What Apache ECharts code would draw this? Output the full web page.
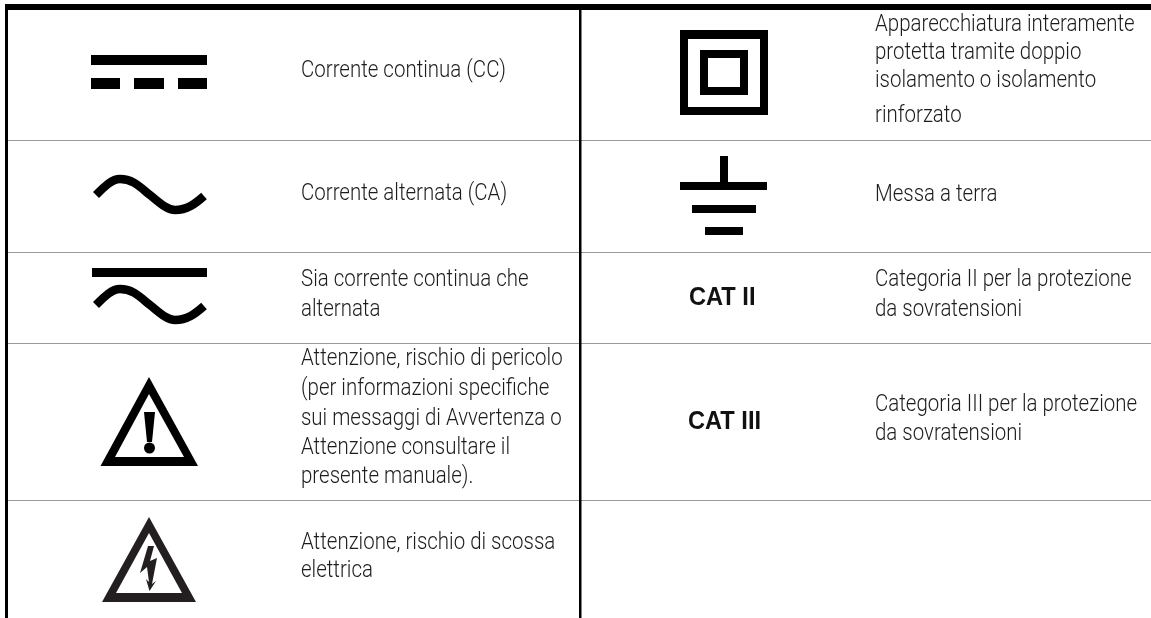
<!DOCTYPE html>
<html>
<head>
<meta charset="utf-8">
<title>Simboli di sicurezza</title>
<script src="https://cdn.jsdelivr.net/npm/echarts@6/dist/echarts.min.js"></script>
<style>
html, body { margin: 0; padding: 0; background: #fff; }
#chart { width: 1151px; height: 618px; }
</style>
</head>
<body>
<div id="chart"></div>
<script>
// table content
const leftLabels = [
  ["Corrente continua (CC)"],
  ["Corrente alternata (CA)"],
  ["Sia corrente continua che", "alternata"],
  ["Attenzione, rischio di pericolo", "(per informazioni specifiche", "sui messaggi di Avvertenza o", "Attenzione consultare il", "presente manuale)."],
  ["Attenzione, rischio di scossa", "elettrica"],
];
const rightLabels = [
  ["Apparecchiatura interamente", "protetta tramite doppio", "isolamento o isolamento", "rinforzato"],
  ["Messa a terra"],
  ["Categoria II per la protezione", "da sovratensioni"],
  ["Categoria III per la protezione", "da sovratensioni"],
];
const catLabels = ["CAT II", "CAT III"];

// layout, in page pixels on the hidden axes
const rowRules = [140, 252, 343, 500];
const leftBaselines = [[78], [201], [287, 317], [366, 396, 426, 455, 484], [550, 578]];
const rightBaselines = [[32, 60, 88, 123], [202], [287, 317], [412, 441]];
const catPlaces = [[689, 306], [688, 430]];

// symbols drawn around their own centre
const rect = (x0, y0, x1, y1) => `M${x0} ${y0}L${x1} ${y0}L${x1} ${y1}L${x0} ${y1}Z`;
const hole = (x0, y0, x1, y1) => `M${x0} ${y0}L${x0} ${y1}L${x1} ${y1}L${x1} ${y0}Z`;
const wave = "M-53 0C-44 -9 -37 -16 -29 -16C-16 -16 -9 -8 1 0C11 8 18 15 26 15C38 15 46 9 55 1";
const symbols = [
  { at: [149, 72], fill: rect(-58, -17, 58, -7) + rect(-58, 6, -29, 17) + rect(-15, 6, 15, 17) + rect(29, 6, 58, 17) },
  { at: [149, 195], stroke: wave },
  { at: [149, 305], fill: rect(-57, -37, 58, -28), stroke: wave },
  { at: [149, 420], fill: "M0 -43L49 46L-48.5 46ZM0 -26L-34 37L35 37Z"
      + "M-5 -8L6 -8L3 22L-2 22ZM6 28A5.5 5.5 0 1 1 -5 28A5.5 5.5 0 1 1 6 28Z" },
  { at: [149, 560], color: "#231f20", fill: "M0 -43L47 42L-47 42ZM0 -27L-33 33L33 33Z"
      + "M-1 -14L5 -14L1 1L8 -2L3 24L7 21L0.5 31L-3 19L0 22L-2 7L-9 13Z" },
  { at: [724, 72], fill: rect(-44, -42, 44, 43) + hole(-36, -33, 36, 35) + rect(-24, -22, 24, 23) + hole(-16, -14, 16, 15) },
  { at: [724, 195], fill: rect(-4, -39, 4, -12) + rect(-44, -13, 43, -5) + rect(-32, 10, 32, 18) + rect(-19, 32, 19, 40) },
];

const chart = echarts.init(document.getElementById("chart"), null, { renderer: "canvas" });

const bodyFont = "300 23px Roboto";
const bodyScale = 0.89;

function textEl(api, str, x, baseline) {
  const p = api.coord([x, baseline]);
  return {
    type: "text",
    x: p[0],
    y: p[1] - 6.5,
    scaleX: bodyScale,
    style: { text: str, font: bodyFont, fill: "#1c1c1c", verticalAlign: "middle" },
  };
}

function cellTexts(api, labels, baselines, x) {
  const out = [];
  labels.forEach((lines, r) => {
    lines.forEach((str, l) => out.push(textEl(api, str, x, baselines[r][l])));
  });
  return out;
}

function ruleEl(api, x0, y0, x1, y1, color) {
  const a = api.coord([x0, y0]);
  const b = api.coord([x1, y1]);
  return { type: "rect", shape: { x: a[0], y: a[1], width: b[0] - a[0], height: b[1] - a[1] }, style: { fill: color } };
}

function renderTable(params, api) {
  if (params.dataIndex > 0) return null;
  const children = [];
  rowRules.forEach((y) => children.push(ruleEl(api, 5, y, 1151, y + 1, "#999999")));
  children.push(ruleEl(api, 5, 4, 1151, 10, "#000"));
  children.push(ruleEl(api, 5, 4, 8, 618, "#000"));
  children.push(ruleEl(api, 579, 10, 581.5, 618, "#000"));

  symbols.forEach((s) => {
    const p = api.coord(s.at);
    const color = s.color || "#000";
    if (s.fill) {
      children.push({ type: "path", x: p[0], y: p[1], shape: { pathData: s.fill }, style: { fill: color } });
    }
    if (s.stroke) {
      children.push({ type: "path", x: p[0], y: p[1], shape: { pathData: s.stroke },
        style: { fill: "none", stroke: color, lineWidth: 8.5 } });
    }
  });

  children.push(...cellTexts(api, leftLabels, leftBaselines, 301));
  children.push(...cellTexts(api, rightLabels, rightBaselines, 875));

  catLabels.forEach((str, i) => {
    const p = api.coord(catPlaces[i]);
    children.push({
      type: "text", x: p[0], y: p[1] - 8, scaleX: 0.945,
      style: { text: str, font: "bold 25px 'Liberation Sans'", fill: "#111", verticalAlign: "middle" },
    });
  });
  return { type: "group", children };
}

chart.setOption({
  animation: false,
  backgroundColor: "#fff",
  grid: { left: 0, right: 0, top: 0, bottom: 0 },
  xAxis: { type: "value", min: 0, max: 1151, show: false },
  yAxis: { type: "value", min: 0, max: 618, inverse: true, show: false },
  series: [{
    type: "custom",
    coordinateSystem: "cartesian2d",
    clip: false,
    silent: true,
    renderItem: renderTable,
    data: [[0, 0]],
  }],
});
</script>
</body>
</html>
